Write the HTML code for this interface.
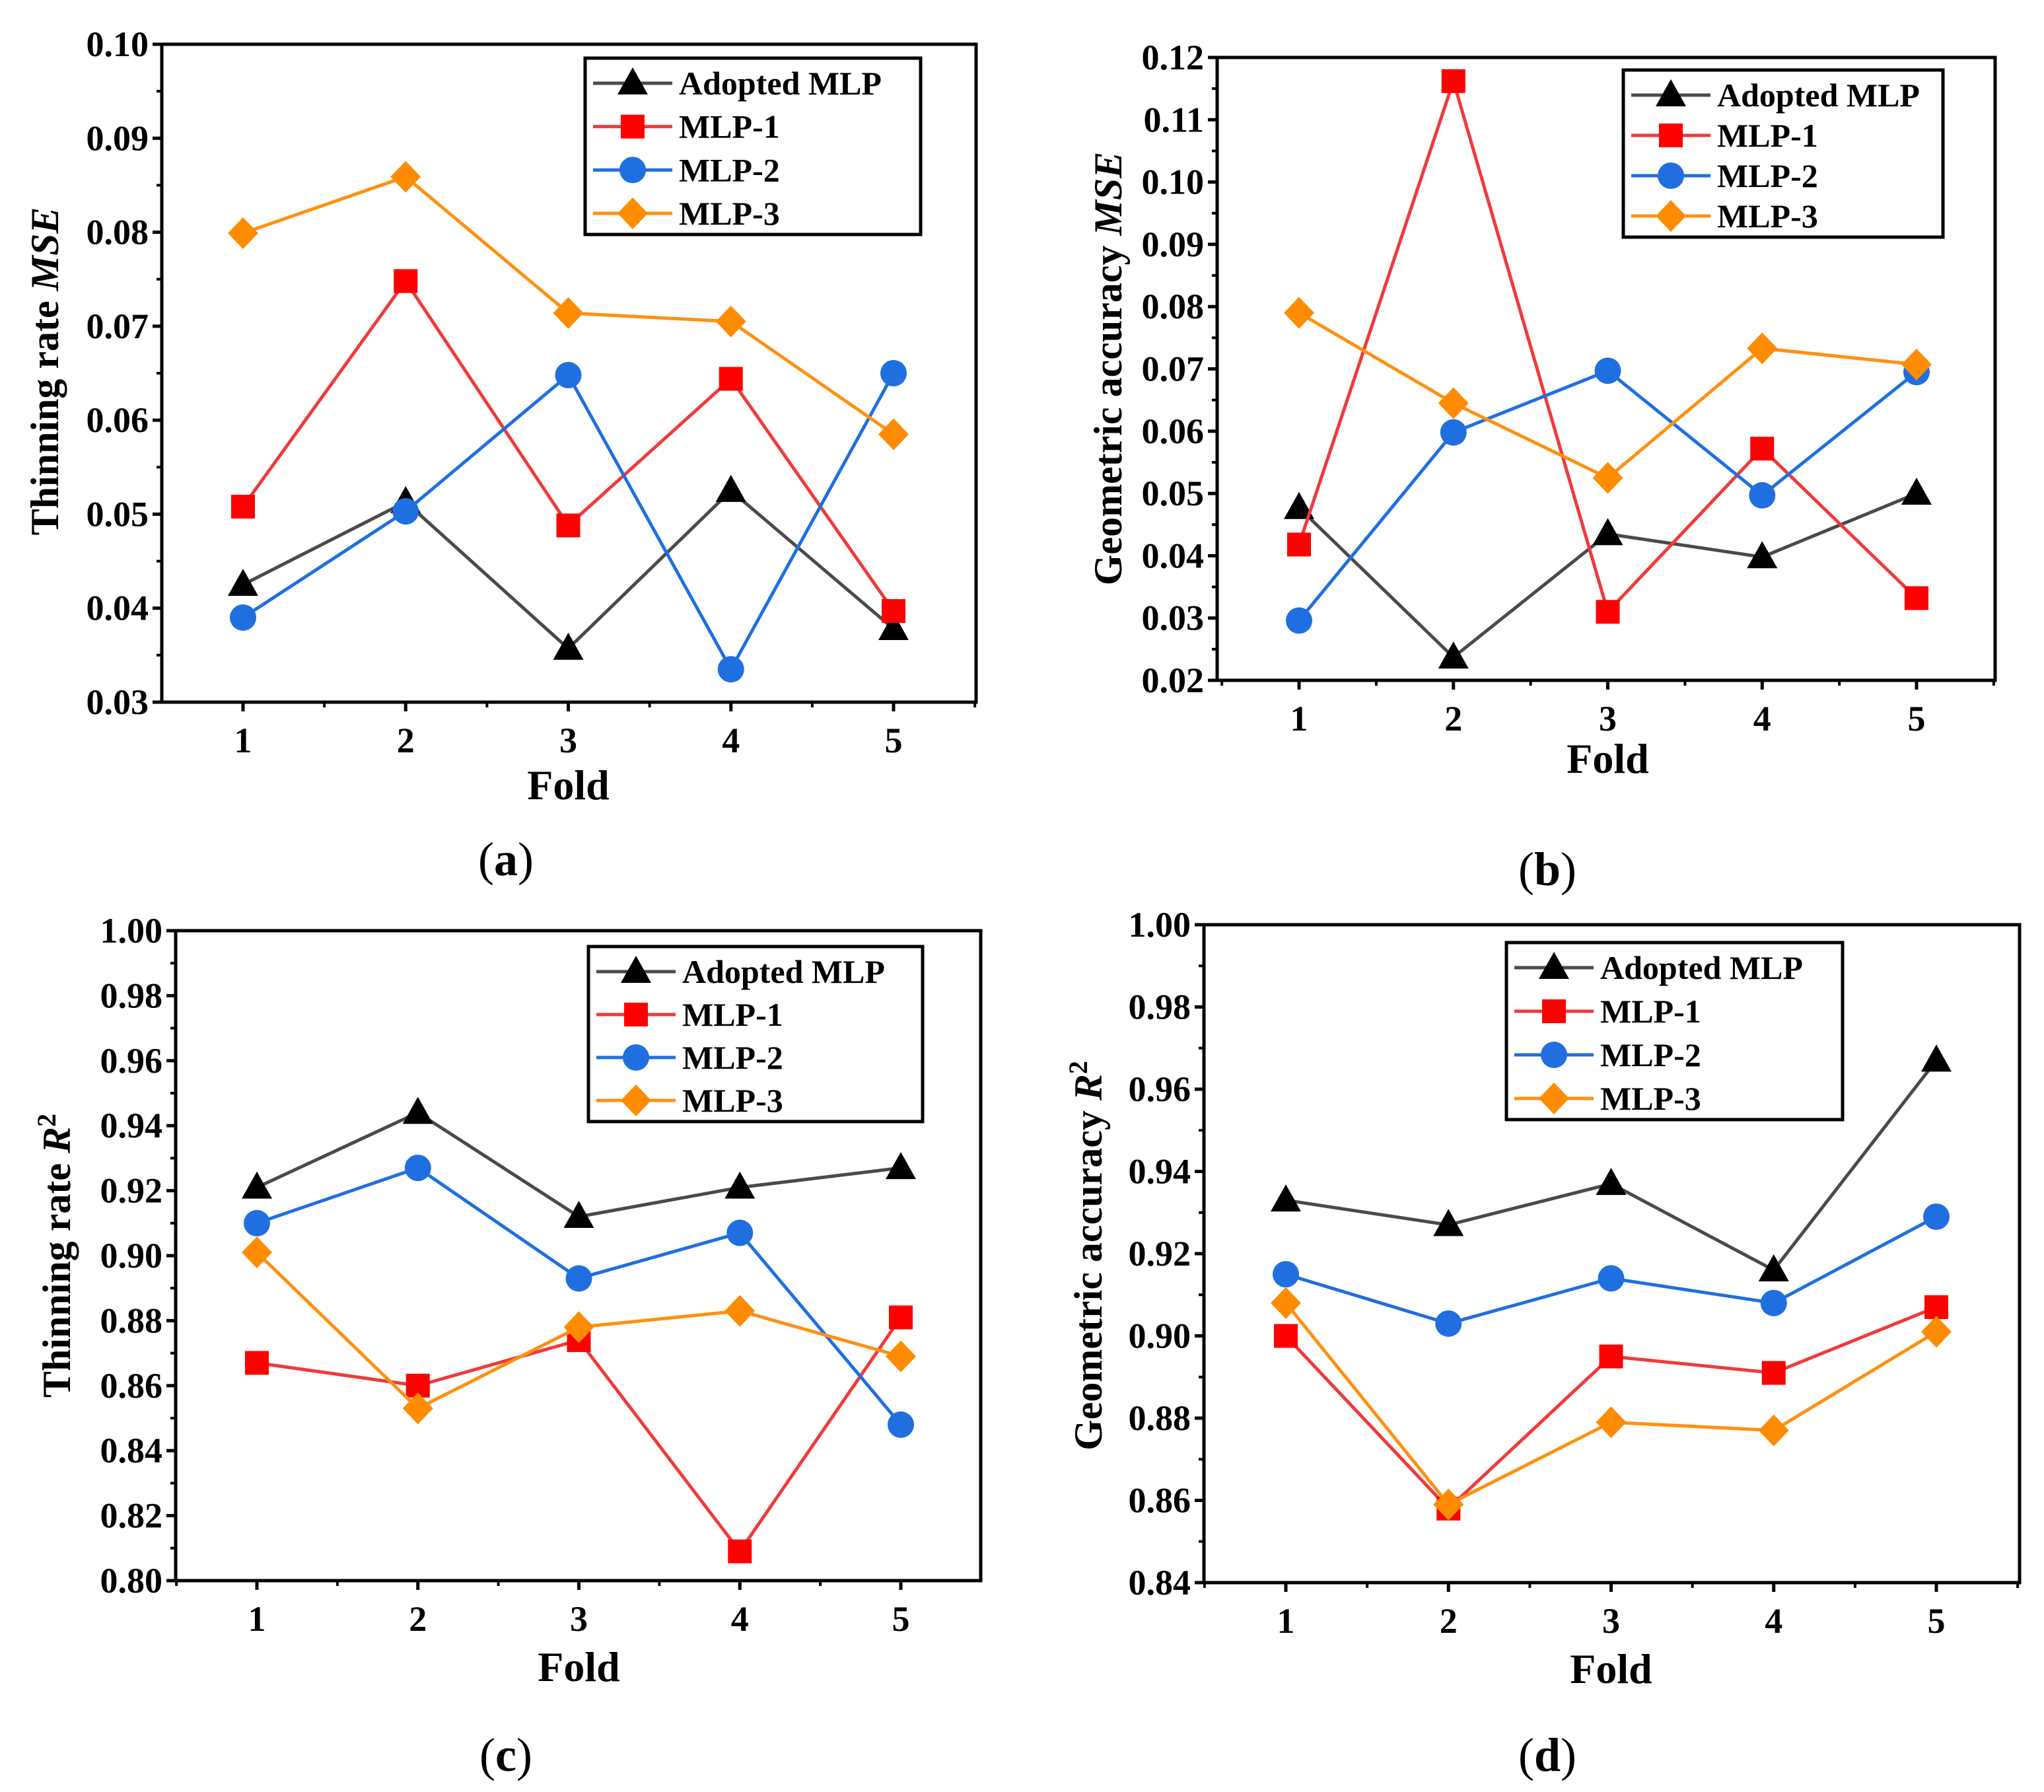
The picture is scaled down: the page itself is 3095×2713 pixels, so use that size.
<!DOCTYPE html>
<html><head><meta charset="utf-8">
<style>
html,body{margin:0;padding:0;background:#fff;}
svg{display:block;}
text{font-family:"Liberation Serif",serif;}
</style></head>
<body>
<svg id="fig" width="3095" height="2713" viewBox="0 0 3095 2713" xmlns="http://www.w3.org/2000/svg"></svg>
<script>
const folds = [1,2,3,4,5];
const seriesNames = ["Adopted MLP","MLP-1","MLP-2","MLP-3"];
const aAdopted = [0.0425,0.0513,0.0357,0.0525,0.0378];
const aMlp1 = [0.0508,0.0748,0.0488,0.0644,0.0397];
const aMlp2 = [0.0390,0.0503,0.0648,0.0335,0.0650];
const aMlp3 = [0.0799,0.0859,0.0714,0.0705,0.0585];
const bAdopted = [0.0477,0.0237,0.0435,0.0398,0.0500];
const bMlp1 = [0.0418,0.1162,0.0310,0.0572,0.0332];
const bMlp2 = [0.0296,0.0598,0.0697,0.0497,0.0695];
const bMlp3 = [0.0790,0.0645,0.0525,0.0733,0.0707];
const cAdopted = [0.921,0.944,0.912,0.921,0.927];
const cMlp1 = [0.867,0.860,0.874,0.809,0.881];
const cMlp2 = [0.910,0.927,0.893,0.907,0.848];
const cMlp3 = [0.901,0.853,0.878,0.883,0.869];
const dAdopted = [0.933,0.927,0.937,0.916,0.967];
const dMlp1 = [0.900,0.858,0.895,0.891,0.907];
const dMlp2 = [0.915,0.903,0.914,0.908,0.929];
const dMlp3 = [0.908,0.859,0.879,0.877,0.901];
const aTicks = ["0.03","0.04","0.05","0.06","0.07","0.08","0.09","0.10"];
const bTicks = ["0.02","0.03","0.04","0.05","0.06","0.07","0.08","0.09","0.10","0.11","0.12"];
const cTicks = ["0.80","0.82","0.84","0.86","0.88","0.90","0.92","0.94","0.96","0.98","1.00"];
const dTicks = ["0.84","0.86","0.88","0.90","0.92","0.94","0.96","0.98","1.00"];

const NS="http://www.w3.org/2000/svg";
const svg=document.getElementById('fig');
function mk(tag,attrs,parent){const e=document.createElementNS(NS,tag);for(const k in attrs)e.setAttribute(k,attrs[k]);(parent||svg).appendChild(e);return e;}
const lineCols=["#4a4a4a","#f03a3a","#1f6fe0","#ff9010"];
const markCols=["#000000","#ff0000","#1f6fe0","#ff8c00"];

function marker(g,type,x,y,col){
  let e;
  if(type===0){e=mk('polygon',{points:`${x},${y-24} ${x-23},${y+17} ${x+23},${y+17}`,fill:col},g);}
  else if(type===1){e=mk('rect',{x:x-18,y:y-18,width:36,height:36,fill:col},g);}
  else if(type===2){e=mk('circle',{cx:x,cy:y,r:20,fill:col},g);}
  else {e=mk('polygon',{points:`${x},${y-24} ${x+23},${y} ${x},${y+24} ${x-23},${y}`,fill:col},g);}
  return e;
}

function panel(p){
  const g=mk('g',{});
  
  
  const ys=v=>p.bottom-(v-p.ymin)/(p.ymax-p.ymin)*(p.bottom-p.top);
  const xs=f=>p.x1+(f-1)*(p.x5-p.x1)/4;
  const fr=mk('rect',{x:p.left,y:p.top,width:p.right-p.left,height:p.bottom-p.top,fill:'none',stroke:'#000','stroke-width':5},g);
  
  
  const n=p.ticks.length;
  for(let i=0;i<n;i++){
    const v=p.ymin+i*(p.ymax-p.ymin)/(n-1);
    const y=ys(v);
    mk('line',{x1:p.left-14,y1:y,x2:p.left,y2:y,stroke:'#000','stroke-width':5},g);
    const t=mk('text',{x:p.left-20,y:y+18,'text-anchor':'end','font-size':54,'font-weight':'bold'},g);
    t.textContent=p.ticks[i];
    
    
    if(i<n-1){const ym=ys(v+(p.ymax-p.ymin)/(n-1)/2);mk('line',{x1:p.left-8,y1:ym,x2:p.left,y2:ym,stroke:'#000','stroke-width':4},g);}
  }
  for(let i=0;i<folds.length;i++){
    const x=xs(folds[i]);
    mk('line',{x1:x,y1:p.bottom,x2:x,y2:p.bottom+14,stroke:'#000','stroke-width':5},g);
    const t=mk('text',{x:x,y:p.bottom+76,'text-anchor':'middle','font-size':54,'font-weight':'bold'},g);
    t.textContent=folds[i];
    
    
  }
  const step=(p.x5-p.x1)/4;
  for(let x=p.x1-step/2;x<p.right;x+=step){ if(x>p.left) mk('line',{x1:x,y1:p.bottom,x2:x,y2:p.bottom+8,stroke:'#000','stroke-width':4},g);}
  p.series.forEach((s,k)=>{
    const sg=mk('g',{},g);
    
    
    const pts=s.map((v,i)=>xs(folds[i])+','+ys(v)).join(' ');
    mk('polyline',{points:pts,fill:'none',stroke:lineCols[k],'stroke-width':5},sg);
    s.forEach((v,i)=>{const m=marker(sg,k,xs(folds[i]),ys(v),markCols[k]);
      
      });
  });
  const lg=mk('g',{},g);
  
  
  mk('rect',{x:p.lx1,y:p.ly1,width:p.lx2-p.lx1,height:p.ly2-p.ly1,fill:'#fff',stroke:'#000','stroke-width':5},lg);
  const rowH=(p.ly2-p.ly1-70)/3;
  for(let k=0;k<4;k++){
    const y=p.ly1+38+k*rowH;
    const lx=p.lx1+12;
    mk('line',{x1:lx,y1:y,x2:lx+120,y2:y,stroke:lineCols[k],'stroke-width':5},lg);
    marker(lg,k,lx+60,y,markCols[k]);
    const t=mk('text',{x:lx+130,y:y+17,'font-size':50,'font-weight':'bold'},lg);
    t.textContent=seriesNames[k];
    
    
  }
  const yt=mk('text',{x:p.ytx,y:p.yty,'text-anchor':'middle','font-size':60,'font-weight':'bold',transform:`rotate(-90 ${p.ytx} ${p.yty})`},g);
  yt.innerHTML=p.ytitle;
  
  
  const xt=mk('text',{x:(p.x1+p.x5)/2,y:p.foldY,'text-anchor':'middle','font-size':64,'font-weight':'bold'},g);
  xt.textContent='Fold';
  
  
  const cap=mk('text',{x:p.capX,y:p.capY,'text-anchor':'middle','font-size':72},g);
  cap.innerHTML='(<tspan font-weight="bold">'+p.id+'</tspan>)';
  
  
}

panel({id:'a',left:245,right:1478,top:67,bottom:1063,ymin:0.03,ymax:0.10,x1:368,x5:1353,ticks:aTicks,
  series:[aAdopted,aMlp1,aMlp2,aMlp3],lx1:886,lx2:1394,ly1:88,ly2:355,
  ytx:88,yty:562,ytitle:'Thinning rate <tspan font-style="italic">MSE</tspan>',foldY:1210,capX:766,capY:1325});
panel({id:'b',left:1843,right:3021,top:87,bottom:1030,ymin:0.02,ymax:0.12,x1:1967,x5:2902,ticks:bTicks,
  series:[bAdopted,bMlp1,bMlp2,bMlp3],lx1:2458,lx2:2942,ly1:106,ly2:359,
  ytx:1698,yty:558,ytitle:'Geometric accuracy <tspan font-style="italic">MSE</tspan>',foldY:1170,capX:2343,capY:1340});
panel({id:'c',left:266,right:1485,top:1409,bottom:2393,ymin:0.80,ymax:1.00,x1:389,x5:1364,ticks:cTicks,
  series:[cAdopted,cMlp1,cMlp2,cMlp3],lx1:891,lx2:1397,ly1:1433,ly2:1698,
  ytx:106,yty:1901,ytitle:'Thinning rate <tspan font-style="italic">R</tspan><tspan font-size="40" dy="-22">2</tspan>',foldY:2545,capX:766,capY:2681});
panel({id:'d',left:1823,right:3058,top:1400,bottom:2396,ymin:0.84,ymax:1.00,x1:1947,x5:2932,ticks:dTicks,
  series:[dAdopted,dMlp1,dMlp2,dMlp3],lx1:2281,lx2:2790,ly1:1427,ly2:1695,
  ytx:1668,yty:1901,ytitle:'Geometric accuracy <tspan font-style="italic">R</tspan><tspan font-size="40" dy="-22">2</tspan>',foldY:2548,capX:2343,capY:2681});
</script>
</body></html>
